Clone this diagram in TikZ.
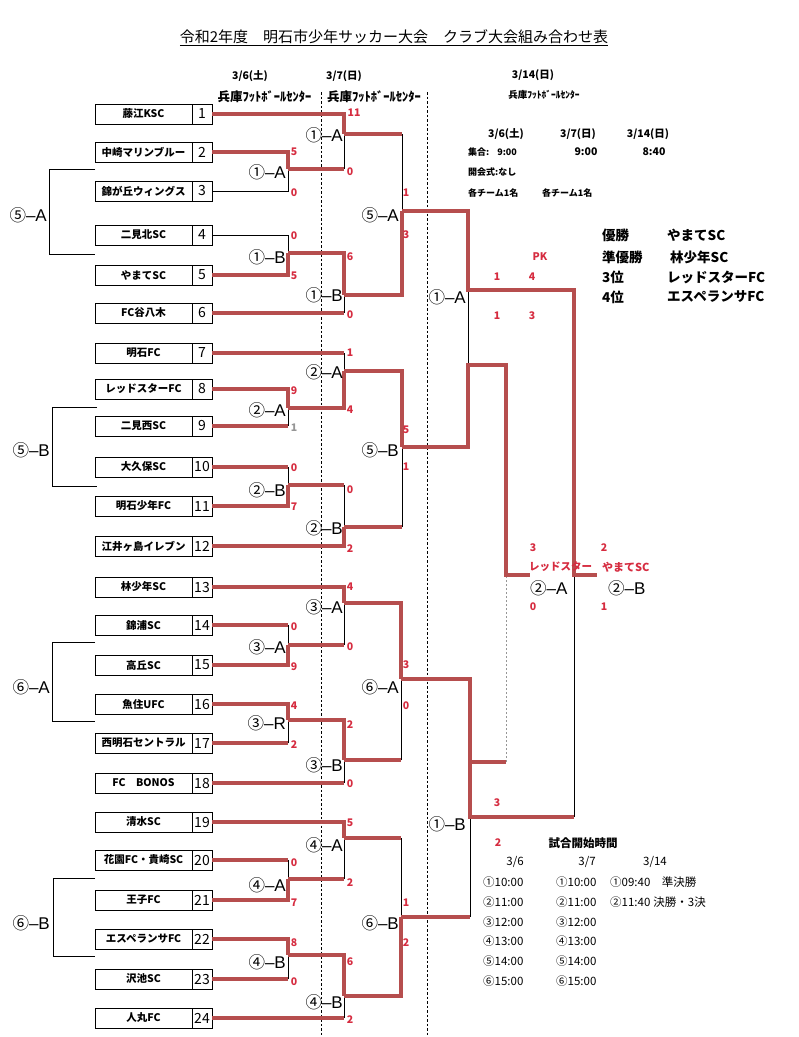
\documentclass[tikz,border=0pt]{standalone}
\usepackage{fontspec}
\setmainfont{Noto Sans CJK JP}
\newfontfamily\libsans{Liberation Sans}
\definecolor{lred}{RGB}{182,78,78}
\definecolor{sred}{RGB}{214,44,64}
\definecolor{sgray}{RGB}{150,150,150}
\newcommand{\rlab}[2]{{\fontsize{16.5}{16}\selectfont #1}{\libsans\fontsize{17}{17}\selectfont –#2}}
\tikzset{
  rl/.style={draw=lred,line width=3.1pt,line cap=butt},
  bl/.style={draw=black,line width=0.8pt},
  dl/.style={draw=black,line width=0.6pt,dash pattern=on 2.5pt off 2pt},
  dg/.style={draw=sgray,line width=0.7pt,dash pattern=on 2pt off 2pt},
  teambox/.style={draw=black,line width=0.8pt,minimum width=97pt,minimum height=20pt,inner sep=0pt,font=\fontsize{10.5}{11}\selectfont\bfseries},
  numbox/.style={draw=black,line width=0.8pt,minimum width=20pt,minimum height=20pt,inner sep=0pt,font=\fontsize{14}{14}\selectfont},
  sc/.style={text=sred,font=\fontsize{10.5}{11}\selectfont\bfseries,inner sep=0pt},
  rnd/.style={inner sep=0pt},
  hd/.style={font=\fontsize{10.5}{11}\selectfont\bfseries,inner sep=0pt},
  vn/.style={font=\fontsize{12.5}{13}\selectfont\bfseries,inner sep=0pt},
  vns/.style={font=\fontsize{9.5}{10}\selectfont\bfseries,inner sep=0pt},
  sm/.style={font=\fontsize{9}{10}\selectfont\bfseries,inner sep=0pt},
  res/.style={font=\fontsize{13.5}{14}\selectfont\bfseries,inner sep=0pt,anchor=west},
  tm/.style={font=\fontsize{11.5}{12}\selectfont,inner sep=0pt},
}
\begin{document}
\begin{tikzpicture}[x=1pt,y=-1pt]
\path[fill=white] (0,0) rectangle (799,1037);
\useasboundingbox (0,0) rectangle (799,1037);

% title
\node[font=\fontsize{15}{15}\selectfont,inner sep=0pt] (title) at (394,38) {\underline{令和2年度　明石市少年サッカー大会　クラブ大会組み合わせ表}};

% headers
\node[hd] (d1) at (250,76) {3/6(土)};
\node[vn] (v1) at (264.5,97) {兵庫ﾌｯﾄﾎﾞｰﾙｾﾝﾀｰ};
\node[hd] (d2) at (344,76) {3/7(日)};
\node[vn] (v2) at (374,97) {兵庫ﾌｯﾄﾎﾞｰﾙｾﾝﾀｰ};
\node[hd] (d3) at (533,75) {3/14(日)};
\node[vns] (v3) at (544,95) {兵庫ﾌｯﾄﾎﾞｰﾙｾﾝﾀｰ};

% dashed day separators
\coordinate (dA1) at (321,92); \coordinate (dA2) at (321,1037);
\coordinate (dB1) at (427,92); \coordinate (dB2) at (427,1037);
\draw[dl] (dA1) -- (dA2);
\draw[dl] (dB1) -- (dB2);

% teams
\foreach \i/\y/\nm in {1/114/藤江KSC,2/152/中崎マリンブルー,3/191/錦が丘ウィングス,4/235/二見北SC,5/275/やまてSC,6/313/FC谷八木,
  7/353/明石FC,8/389/レッドスターFC,9/426/二見西SC,10/467/大久保SC,11/506/明石少年FC,12/546/江井ヶ島イレブン,
  13/587/林少年SC,14/625/錦浦SC,15/665/高丘SC,16/704/魚住UFC,17/743/西明石セントラル,18/783/FC\hspace{1em}BONOS,
  19/822/清水SC,20/860/花園FC・貴崎SC,21/900/王子FC,22/939/エスペランサFC,23/979/沢池SC,24/1018/人丸FC}{
  \node[teambox] (t\i) at (143.5,\y) {\nm};
  \node[numbox] (n\i) at (202,\y) {\i};
}

% left group brackets
\coordinate (g1a) at (95,169); \coordinate (g1b) at (49,169); \coordinate (g1c) at (49,254); \coordinate (g1d) at (95,254);
\coordinate (g2a) at (97,407); \coordinate (g2b) at (52,407); \coordinate (g2c) at (52,486); \coordinate (g2d) at (97,486);
\coordinate (g3a) at (95,642); \coordinate (g3b) at (52,642); \coordinate (g3c) at (52,721); \coordinate (g3d) at (95,721);
\coordinate (g4a) at (95,878); \coordinate (g4b) at (53,878); \coordinate (g4c) at (53,956); \coordinate (g4d) at (95,956);
\foreach \g in {1,2,3,4}{\draw[bl] (g\g a) -- (g\g b) -- (g\g c) -- (g\g d);}
\node[rnd,anchor=east] (gl1) at (47,215) {\rlab{⑤}{A}};
\node[rnd,anchor=east] (gl2) at (50,450) {\rlab{⑤}{B}};
\node[rnd,anchor=east] (gl3) at (50,687) {\rlab{⑥}{A}};
\node[rnd,anchor=east] (gl4) at (50,923) {\rlab{⑥}{B}};

% junction coordinates
\coordinate (A1) at (288,169); \coordinate (B1) at (288,253); \coordinate (C1) at (344,134); \coordinate (D1) at (344,295); \coordinate (E1) at (402,211);
\coordinate (A2) at (288,408); \coordinate (B2) at (288,485); \coordinate (C2) at (344,371); \coordinate (D2) at (344,527); \coordinate (E2) at (402,447);
\coordinate (A3) at (288,645); \coordinate (B3) at (288,720); \coordinate (C3) at (344,603); \coordinate (D3) at (344,760); \coordinate (E3) at (401,679);
\coordinate (A4) at (288,879); \coordinate (B4) at (288,955); \coordinate (C4) at (344,838); \coordinate (D4) at (344,996); \coordinate (E4) at (401,917);
\coordinate (SA) at (468,290); \coordinate (SAb) at (468,365); \coordinate (SAc) at (506,365);
\coordinate (SB) at (470,817); \coordinate (SBr) at (470,762); \coordinate (Tq) at (506,762);
\coordinate (F) at (574,575); \coordinate (Fe) at (597,575);
\coordinate (T) at (506,575); \coordinate (Te) at (530,575);

% ---- black (losing) segments
\draw[bl] (n3.east) -- (A1 |- n3.east) -- (A1);
\draw[bl] (n4.east) -- (B1 |- n4.east) -- (B1);
\draw[bl] (C1) -- (C1 |- A1);
\draw[bl] (D1) -- (D1 |- n6.east);
\draw[bl] (E1 |- C1) -- (E1);
\draw[bl] (A2 |- n9.east) -- (A2);
\draw[bl] (B2 |- n10.east) -- (B2);
\draw[bl] (C2 |- n7.east) -- (C2);
\draw[bl] (D2 |- B2) -- (D2);
\draw[bl] (E2 |- D2) -- (E2);
\draw[bl] (A3 |- n14.east) -- (A3);
\draw[bl] (B3 |- n17.east) -- (B3);
\draw[bl] (C3 |- A3) -- (C3);
\draw[bl] (D3) -- (D3 |- n18.east);
\draw[bl] (E3 |- D3) -- (E3);
\draw[bl] (A4 |- n20.east) -- (A4);
\draw[bl] (B4 |- n23.east) -- (B4);
\draw[bl] (C4 |- A4) -- (C4);
\draw[bl] (D4) -- (D4 |- n24.east);
\draw[bl] (E4 |- C4) -- (E4);
\draw[bl] (SA) -- (SAb);
\draw[bl] (SB |- E4) -- (SB);
\draw[bl] (F) -- (F |- SB);
\draw[dg] (Tq) -- (T);

% ---- red segments, block 1
\draw[rl] (n1.east) -- (C1 |- n1.east) -- (C1);
\draw[rl] (n2.east) -- (A1 |- n2.east) -- (A1);
\draw[rl] (A1) -- (C1 |- A1);
\draw[rl] (n5.east) -- (B1 |- n5.east) -- (B1);
\draw[rl] (B1) -- (D1 |- B1) -- (D1);
\draw[rl] (n6.east) -- (D1 |- n6.east);
\draw[rl] (C1) -- (E1 |- C1);
\draw[rl] (D1) -- (E1 |- D1) -- (E1);
% block 2
\draw[rl] (n7.east) -- (C2 |- n7.east);
\draw[rl] (n8.east) -- (A2 |- n8.east) -- (A2);
\draw[rl] (n9.east) -- (A2 |- n9.east);
\draw[rl] (n10.east) -- (B2 |- n10.east);
\draw[rl] (n11.east) -- (B2 |- n11.east) -- (B2);
\draw[rl] (n12.east) -- (D2 |- n12.east) -- (D2);
\draw[rl] (A2) -- (C2 |- A2) -- (C2);
\draw[rl] (B2) -- (D2 |- B2);
\draw[rl] (C2) -- (E2 |- C2) -- (E2);
\draw[rl] (D2) -- (E2 |- D2);
% block 3
\draw[rl] (n13.east) -- (C3 |- n13.east) -- (C3);
\draw[rl] (n14.east) -- (A3 |- n14.east);
\draw[rl] (n15.east) -- (A3 |- n15.east) -- (A3);
\draw[rl] (n16.east) -- (B3 |- n16.east) -- (B3);
\draw[rl] (n17.east) -- (B3 |- n17.east);
\draw[rl] (n18.east) -- (D3 |- n18.east);
\draw[rl] (A3) -- (C3 |- A3);
\draw[rl] (B3) -- (D3 |- B3) -- (D3);
\draw[rl] (C3) -- (E3 |- C3) -- (E3);
\draw[rl] (D3) -- (E3 |- D3);
% block 4
\draw[rl] (n19.east) -- (C4 |- n19.east) -- (C4);
\draw[rl] (n20.east) -- (A4 |- n20.east);
\draw[rl] (n21.east) -- (A4 |- n21.east) -- (A4);
\draw[rl] (n22.east) -- (B4 |- n22.east) -- (B4);
\draw[rl] (n23.east) -- (B4 |- n23.east);
\draw[rl] (n24.east) -- (D4 |- n24.east);
\draw[rl] (A4) -- (C4 |- A4);
\draw[rl] (B4) -- (D4 |- B4) -- (D4);
\draw[rl] (C4) -- (E4 |- C4);
\draw[rl] (D4) -- (E4 |- D4) -- (E4);
% semis, final, 3rd place
\draw[rl] (E1) -- (SA |- E1) -- (SA) -- (F |- SA) -- (F) -- (Fe);
\draw[rl] (E2) -- (SAb |- E2) -- (SAb) -- (SAc) -- (T) -- (Te);
\draw[rl] (E3) -- (SB |- E3) -- (SB) -- (F |- SB);
\draw[rl] (SB |- E4) -- (E4);
\draw[rl] (SBr) -- (Tq);

% round labels
\foreach \x/\y/\c/\t [count=\k] in {
  286/172/①/A,286/257/①/B,343/135/①/A,343/295/①/B,399/215/⑤/A,
  286/410/②/A,286/490/②/B,343/372/②/A,343/528/②/B,399/450/⑤/B,
  286/647/③/A,286/723/③/R,343/607/③/A,343/765/③/B,399/687/⑥/A,
  286/885/④/A,286/962/④/B,343/845/④/A,343/1002/④/B,399/923/⑥/B,
  466/297/①/A,466/824/①/B}{
  \node[rnd,anchor=east] (lb\k) at (\x,\y) {\rlab{\c}{\t}};
}
\node[rnd,anchor=west] (lf1) at (530,588) {\rlab{②}{A}};
\node[rnd,anchor=west] (lf2) at (608,588) {\rlab{②}{B}};

% scores
\foreach \x/\y/\t [count=\k] in {
  294/152/5,294/193/0,294/236/0,294/276/5,354/113/11,350/172/0,350/257/6,350/315/0,406/193/1,406/235/3,
  294/391/9,294/468/0,294/507/7,350/353/1,350/410/4,350/490/0,350/549/2,406/430/5,406/467/1,
  294/627/0,294/667/9,294/706/4,294/745/2,350/587/4,350/647/0,350/725/2,350/784/0,406/665/3,406/706/0,
  294/863/0,294/903/7,294/943/8,294/982/0,350/823/5,350/883/2,350/962/6,350/1020/2,406/903/1,406/943/2,
  497/277/1,532/277/4,497/316/1,532/316/3,497/803/3,498/843/2,533/548/3,533/607/0,604/548/2,604/607/1,
  540/257/PK}{
  \node[sc] (sc\k) at (\x,\y) {\t};
}
\node[sc,text=sgray] (scg) at (294,428) {1};
\node[sc,anchor=west,font=\fontsize{10.5}{11}\selectfont\bfseries] (fn1) at (529,567) {レッドスター};
\node[sc,anchor=west,font=\fontsize{11}{11}\selectfont\bfseries] (fn2) at (602,567) {やまてSC};

% info block
\node[hd] (i1) at (506,134) {3/6(土)};
\node[hd] (i2) at (578,134) {3/7(日)};
\node[hd] (i3) at (648,134) {3/14(日)};
\node[sm,anchor=west] (i4) at (468,152) {集合:\hspace{8pt}9:00};
\node[hd] (i5) at (586,152) {9:00};
\node[hd] (i6) at (654,152) {8:40};
\node[sm,anchor=west] (i7) at (468,172) {開会式:なし};
\node[sm,anchor=west] (i8) at (468,193) {各チーム1名};
\node[sm,anchor=west] (i9) at (542,193) {各チーム1名};

% results
\node[res] (r1) at (602,235) {優勝};
\node[res] (r2) at (667,235) {やまてSC};
\node[res] (r3) at (602,257) {準優勝};
\node[res] (r4) at (670,257) {林少年SC};
\node[res] (r5) at (602,277) {3位};
\node[res] (r6) at (667,277) {レッドスターFC};
\node[res] (r7) at (602,297) {4位};
\node[res] (r8) at (667,297) {エスペランサFC};

% match times
\node[tm,font=\fontsize{11.5}{12}\selectfont\bfseries] (m0) at (583,843) {試合開始時間};
\node[tm] (m1) at (515,862) {3/6};
\node[tm] (m2) at (587,862) {3/7};
\node[tm] (m3) at (655,862) {3/14};
\foreach \y/\t [count=\k] in {882/①10:00,902/②11:00,922/③12:00,941/④13:00,961/⑤14:00,981/⑥15:00}{
  \node[tm,anchor=west] (ma\k) at (483,\y) {\t};
  \node[tm,anchor=west] (mb\k) at (556,\y) {\t};
}
\node[tm,anchor=west] (mc1) at (610,882) {①09:40　準決勝};
\node[tm,anchor=west] (mc2) at (610,902) {②11:40\hspace{3pt}決勝・3決};
\end{tikzpicture}
\end{document}
